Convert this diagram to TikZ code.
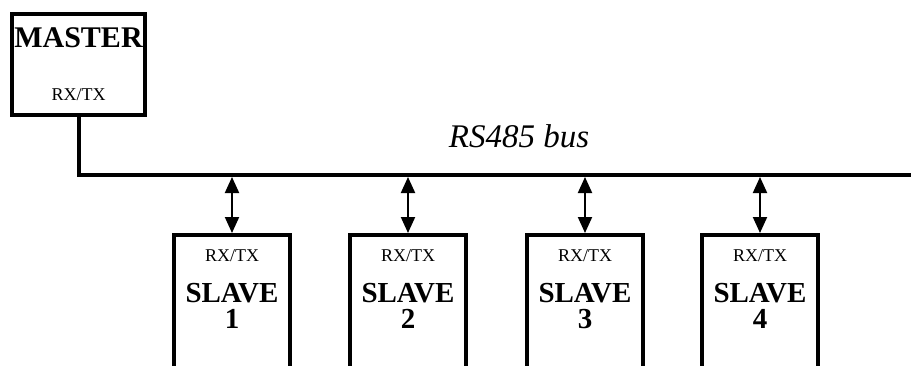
\documentclass[tikz,border=0pt]{standalone}
\usepackage{fontspec}
\setmainfont{Liberation Serif}
\usetikzlibrary{arrows.meta,positioning}
\begin{document}
\begin{tikzpicture}[x=1pt,y=1pt,every node/.style={inner sep=0pt},
  unit/.style={draw,line width=4pt},
  link/.style={line width=2pt,{Triangle[width=14pt,length=16pt]}-{Triangle[width=14pt,length=16pt]}},
  rxtx/.style={anchor=base,font=\fontsize{18}{22}\selectfont},
  bold/.style={anchor=base,align=center,font=\fontsize{29}{26}\selectfont\bfseries}]
\useasboundingbox (0,0) rectangle (911,365); \clip (0,0) rectangle (911,365);
% master and bus
\node[unit,minimum width=133pt,minimum height=101pt] (master) at (78.5,300.5) {};
\node[bold,font=\fontsize{30}{36}\selectfont\bfseries] (mastername) at (78.5,317) {MASTER};
\node[rxtx] (masterrx) at (78.5,265) {RX/TX};
\coordinate (busend) at (920,190);
\draw[line width=4pt] (master.south) -- (master.south |- busend) -- (busend);
\node[anchor=base,font=\fontsize{33}{40}\selectfont\itshape] (buslabel) at (519,218) {RS485 bus};
% slaves
\foreach \i/\x in {1/232,2/408,3/585,4/760}{
  \node[unit,anchor=north,minimum width=116pt,minimum height=200pt] (slave\i) at (\x,132) {};
  \coordinate (tap\i) at (\x,188); \draw[link] (tap\i) -- (slave\i.north);
  \node[rxtx] (slaverx\i) at (\x,104) {RX/TX};
  \node[bold] (slavename\i) at (\x,37) {SLAVE\\\i};
}
\end{tikzpicture}
\end{document}
